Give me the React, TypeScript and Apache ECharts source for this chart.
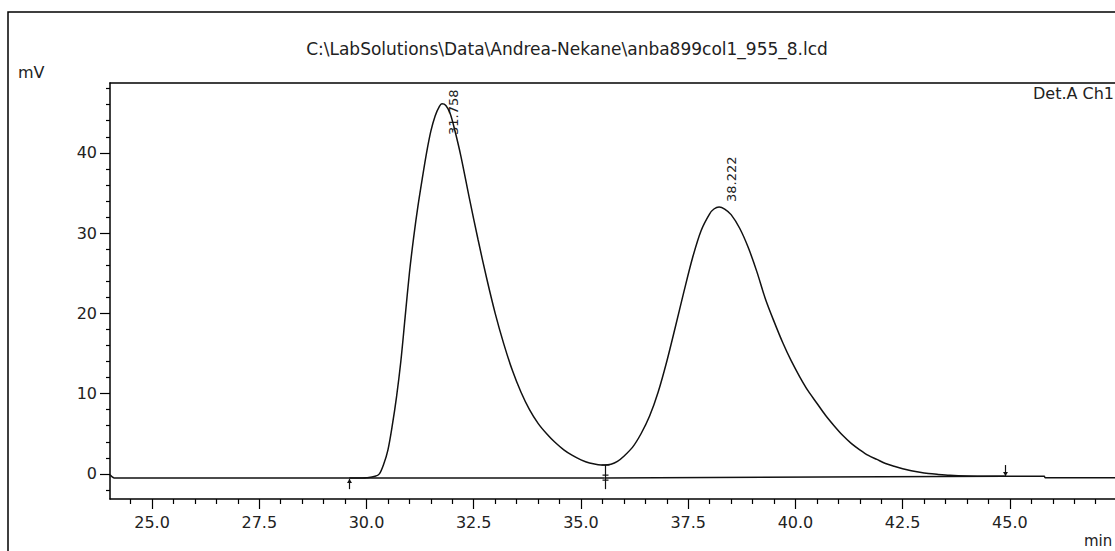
import React, { useEffect, useRef } from "react";
import * as echarts from "echarts";

const TITLE = "C:\\LabSolutions\\Data\\Andrea-Nekane\\anba899col1_955_8.lcd";
const Y_UNIT = "mV";
const X_UNIT = "min";
const DETECTOR = "Det.A Ch1";

const timeMin = [
  24.02, 24.12, 29.9, 30.0, 30.2, 30.3, 30.4, 30.5, 30.6, 30.7, 30.8, 30.9, 31.0, 31.1, 31.2, 31.3,
  31.4, 31.5, 31.6, 31.7, 31.76, 31.85, 31.95, 32.05, 32.2, 32.4, 32.6, 32.8, 33.0, 33.2, 33.4, 33.6,
  33.8, 34.0, 34.2, 34.4, 34.6, 34.8, 35.0, 35.2, 35.4, 35.55, 35.7, 35.85, 36.0, 36.2, 36.4, 36.6,
  36.8, 37.0, 37.2, 37.4, 37.6, 37.8, 38.0, 38.1, 38.22, 38.35, 38.5, 38.7, 38.9, 39.1, 39.3, 39.5,
  39.7, 39.9, 40.1, 40.3, 40.5, 40.7, 40.9, 41.1, 41.3, 41.5, 41.7, 41.9, 42.1, 42.3, 42.5, 42.7,
  42.9, 43.1, 43.3, 43.6, 44.0, 44.5, 45.8, 45.82, 47.45,
];
const signalMv = [
  -0.1, -0.5, -0.5, -0.48, -0.3, 0.0, 1.2, 3.0, 6.0, 9.6, 14.0, 19.5, 25.0, 29.5, 33.4, 36.8,
  40.0, 42.7, 44.6, 45.8, 46.1, 45.9, 44.9, 43.0, 39.6, 34.3, 29.2, 24.4, 20.0, 16.2, 12.9, 10.2,
  8.0, 6.3, 5.0, 3.9, 3.0, 2.3, 1.75, 1.35, 1.15, 1.1, 1.2, 1.55, 2.2, 3.3, 5.0, 7.2,
  10.2, 14.0, 18.3, 22.7, 26.9, 30.3, 32.4, 33.0, 33.25, 33.0, 32.3, 30.6, 28.2, 25.2, 21.8, 19.0,
  16.4, 14.1, 12.1, 10.3, 8.8, 7.3, 6.0, 4.8, 3.8, 3.0, 2.3, 1.8, 1.3, 0.95, 0.65, 0.4,
  0.2, 0.05, -0.05, -0.17, -0.25, -0.28, -0.28, -0.47, -0.47,
];

const xMajorTicks = [25.0, 27.5, 30.0, 32.5, 35.0, 37.5, 40.0, 42.5, 45.0];
const xMinorTicks = [
  24.5, 25.5, 26.0, 26.5, 27.0, 28.0, 28.5, 29.0, 29.5, 30.5, 31.0, 31.5, 32.0, 33.0, 33.5, 34.0, 34.5,
  35.5, 36.0, 36.5, 37.0, 38.0, 38.5, 39.0, 39.5, 40.5, 41.0, 41.5, 42.0, 43.0, 43.5, 44.0, 44.5,
  45.5, 46.0, 46.5, 47.0,
];
const yMajorTicks = [0, 10, 20, 30, 40];
const yMinorTicks = [-2, 2, 4, 6, 8, 12, 14, 16, 18, 22, 24, 26, 28, 32, 34, 36, 38, 42, 44, 46, 48];

const peakTimes = [31.758, 38.222];
const peakHeights = [46.1, 33.25];
const peakLabels = ["31.758", "38.222"];

const eventTimes = [29.6, 35.55, 44.88];
const eventKinds = ["up", "split", "down"];
const eventTop = [-0.64, 1.1, 1.1];
const eventBottom = [-1.9, -1.9, -0.26];

const baselineA = [[29.6, -0.5], [35.55, -0.5]];
const baselineB = [[35.55, -0.5], [44.88, -0.28]];

const X_MIN = 24.02;
const X_MAX = 47.45;
const Y_MIN = -3.13;
const Y_MAX = 48.7;

const FONT = "DejaVu Sans";
const TEXT = "#222";
const INK = "#111";

export default function App() {
  const ref = useRef<HTMLDivElement>(null);
  useEffect(() => {
    if (!ref.current) return;
    const chart = echarts.init(ref.current, undefined, { renderer: "svg" });
    const gridBox = { left: 110, top: 83, right: 0, bottom: 52 };
    const labelStyle = { fontFamily: FONT, fontSize: 16, color: TEXT };
    const kindCode: Record<string, number> = { up: 0, split: 1, down: 2 };

    chart.setOption({
      animation: false,
      backgroundColor: "#fff",
      grid: [
        { ...gridBox, outerBoundsMode: "none" },
        { ...gridBox, outerBoundsMode: "none" },
      ],
      xAxis: [
        {
          type: "value", gridIndex: 0, position: "bottom", min: X_MIN, max: X_MAX,
          axisLine: { show: true, onZero: false, lineStyle: { color: "#000", width: 1.5 } },
          axisTick: { show: true, customValues: xMajorTicks, length: 10, lineStyle: { color: "#000", width: 1.2 } },
          axisLabel: { show: true, customValues: xMajorTicks, margin: 15, formatter: (v: number) => v.toFixed(1), ...labelStyle },
          splitLine: { show: false },
        },
        {
          type: "value", gridIndex: 1, position: "bottom", min: X_MIN, max: X_MAX,
          axisLine: { show: false, onZero: false },
          axisTick: { show: true, customValues: xMinorTicks, length: 5, lineStyle: { color: "#000", width: 1.2 } },
          axisLabel: { show: false },
          splitLine: { show: false },
        },
        {
          type: "value", gridIndex: 0, position: "top", min: X_MIN, max: X_MAX,
          axisLine: { show: true, onZero: false, lineStyle: { color: "#000", width: 1.5 } },
          axisTick: { show: false },
          axisLabel: { show: false },
          splitLine: { show: false },
        },
      ],
      yAxis: [
        {
          type: "value", gridIndex: 0, position: "left", min: Y_MIN, max: Y_MAX,
          axisLine: { show: true, onZero: false, lineStyle: { color: "#000", width: 1.5 } },
          axisTick: { show: true, customValues: yMajorTicks, length: 10, lineStyle: { color: "#000", width: 1.2 } },
          axisLabel: { show: true, customValues: yMajorTicks, margin: 13, ...labelStyle },
          splitLine: { show: false },
        },
        {
          type: "value", gridIndex: 1, position: "left", min: Y_MIN, max: Y_MAX,
          axisLine: { show: false, onZero: false },
          axisTick: { show: true, customValues: yMinorTicks, length: 4, lineStyle: { color: "#000", width: 1.2 } },
          axisLabel: { show: false },
          splitLine: { show: false },
        },
      ],
      graphic: [
        { type: "rect", shape: { x: 8, y: 12, width: 1400, height: 900 }, style: { fill: "none", stroke: "#000", lineWidth: 1.5 }, silent: true },
        { type: "text", x: 567, y: 49, style: { text: TITLE, fontFamily: FONT, fontSize: 17, fill: TEXT, align: "center", verticalAlign: "middle" } },
        { type: "text", x: 18, y: 72, style: { text: Y_UNIT, fontFamily: FONT, fontSize: 16, fill: TEXT, align: "left", verticalAlign: "middle" } },
        { type: "text", x: 1033, y: 93, style: { text: DETECTOR, fontFamily: FONT, fontSize: 16, fill: TEXT, align: "left", verticalAlign: "middle" } },
        { type: "text", x: 1084, y: 541, style: { text: X_UNIT, fontFamily: FONT, fontSize: 15, fill: TEXT, align: "left", verticalAlign: "middle" } },
      ],
      series: [
        {
          type: "line", xAxisIndex: 0, yAxisIndex: 0,
          data: timeMin.map((t, i) => [t, signalMv[i]]),
          showSymbol: false, symbol: "none", smooth: 0.3,
          lineStyle: { color: INK, width: 1.5 }, clip: true,
        },
        {
          type: "line", xAxisIndex: 0, yAxisIndex: 0, data: baselineA, symbol: "none",
          lineStyle: { color: INK, width: 1.5 },
        },
        {
          type: "line", xAxisIndex: 0, yAxisIndex: 0, data: baselineB, symbol: "none",
          lineStyle: { color: INK, width: 1.5 },
        },
        {
          type: "custom", xAxisIndex: 0, yAxisIndex: 0,
          data: eventTimes.map((t, i) => [t, eventTop[i], eventBottom[i], kindCode[eventKinds[i]]]),
          renderItem: (params: any, api: any) => {
            const t = api.value(0);
            const p1 = api.coord([t, api.value(1)]);
            const p2 = api.coord([t, api.value(2)]);
            const kind = api.value(3);
            const x = Math.round(p1[0]) + 0.5;
            const st = { stroke: INK, lineWidth: 1.2, fill: "none" };
            const children: any[] = [
              { type: "line", shape: { x1: x, y1: p1[1], x2: x, y2: p2[1] }, style: st },
            ];
            if (kind === 0) {
              children.push({ type: "polygon", shape: { points: [[x - 2.5, p1[1] + 4], [x, p1[1]], [x + 2.5, p1[1] + 4]] }, style: { fill: INK } });
            } else if (kind === 2) {
              children.push({ type: "polygon", shape: { points: [[x - 2.5, p2[1] - 4], [x, p2[1]], [x + 2.5, p2[1] - 4]] }, style: { fill: INK } });
            } else {
              children.push({ type: "line", shape: { x1: x - 3, y1: p2[1] - 14, x2: x + 3, y2: p2[1] - 14 }, style: st });
              children.push({ type: "line", shape: { x1: x - 3, y1: p2[1] - 9, x2: x + 3, y2: p2[1] - 9 }, style: st });
              children.push({ type: "line", shape: { x1: x - 4, y1: p1[1], x2: x + 4, y2: p1[1] }, style: st });
            }
            return { type: "group", children };
          },
        },
        {
          type: "custom", xAxisIndex: 0, yAxisIndex: 0,
          data: peakTimes.map((t, i) => [t, peakHeights[i], i]),
          renderItem: (params: any, api: any) => {
            const c = api.coord([api.value(0), api.value(1)]);
            const cs = params.coordSys;
            const bottom = Math.max(c[1] - 5, cs.y + 52);
            return {
              type: "text", x: c[0] + 12, y: bottom, rotation: Math.PI / 2,
              style: {
                text: peakLabels[api.value(2)], fontFamily: FONT, fontSize: 13, fill: TEXT,
                align: "left", verticalAlign: "middle",
              },
            };
          },
        },
      ],
    });
    return () => chart.dispose();
  }, []);
  return (
    <div
      ref={ref}
      style={{ position: "fixed", left: 0, top: 0, width: 1115, height: 551, background: "#fff" }}
    />
  );
}
